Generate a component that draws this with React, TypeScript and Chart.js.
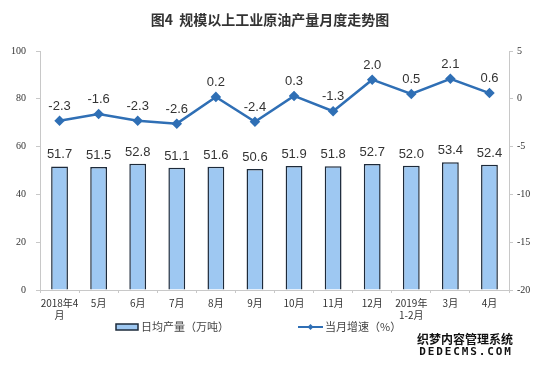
import React, { useEffect, useRef } from "react";
import { Chart, registerables } from "chart.js";
Chart.register(...registerables);

const titleText = "图4  规模以上工业原油产量月度走势图";
const categories: (string | string[])[] = [["2018年4", "月"], "5月", "6月", "7月", "8月", "9月", "10月", "11月", "12月", ["2019年", "1-2月"], "3月", "4月"];
const dailyOutput = [51.7, 51.5, 52.8, 51.1, 51.6, 50.6, 51.9, 51.8, 52.7, 52.0, 53.4, 52.4];
const growthRate = [-2.3, -1.6, -2.3, -2.6, 0.2, -2.4, 0.3, -1.3, 2.0, 0.5, 2.1, 0.6];
const barLegend = "日均产量（万吨）";
const lineLegend = "当月增速（%）";
const watermark = ["织梦内容管理系统", "DEDECMS.COM"];

const BAR_FILL = "#9ec8f2";
const BAR_BORDER = "#1d2a3a";
const LINE_COLOR = "#2f6fb5";
const CJK = '"Noto Sans CJK SC", "Noto Sans", sans-serif';

const overlayPlugin = {
  id: "overlay",
  afterDatasetsDraw(chart: any) {
    const ctx = chart.ctx;
    ctx.save();
    ctx.fillStyle = "#333";
    ctx.font = '13px "Liberation Sans", Arial, sans-serif';
    ctx.textAlign = "center";
    ctx.textBaseline = "alphabetic";
    const barMeta = chart.getDatasetMeta(0);
    barMeta.data.forEach((el: any, i: number) => {
      ctx.fillText(dailyOutput[i].toFixed(1), el.x, el.y - 8);
    });
    const lineMeta = chart.getDatasetMeta(1);
    lineMeta.data.forEach((el: any, i: number) => {
      ctx.fillText(growthRate[i].toFixed(1), el.x, el.y - 11);
    });
    ctx.restore();
  },
  afterDraw(chart: any) {
    const ctx = chart.ctx;
    ctx.save();
    // title
    ctx.fillStyle = "#333";
    ctx.font = `bold 14px ${CJK}`;
    ctx.textAlign = "center";
    ctx.textBaseline = "middle";
    ctx.fillText(titleText, 270, 20);
    // legend
    ctx.fillStyle = BAR_FILL;
    ctx.strokeStyle = BAR_BORDER;
    ctx.lineWidth = 1.5;
    ctx.fillRect(116, 324, 22, 6);
    ctx.strokeRect(116, 324, 22, 6);
    ctx.fillStyle = "#444";
    ctx.font = `11px ${CJK}`;
    ctx.textAlign = "left";
    ctx.fillText(barLegend, 141, 327);
    ctx.strokeStyle = LINE_COLOR;
    ctx.lineWidth = 2;
    ctx.beginPath();
    ctx.moveTo(298, 327);
    ctx.lineTo(323, 327);
    ctx.stroke();
    ctx.fillStyle = LINE_COLOR;
    ctx.beginPath();
    ctx.moveTo(310.5, 324);
    ctx.lineTo(313.5, 327);
    ctx.lineTo(310.5, 330);
    ctx.lineTo(307.5, 327);
    ctx.closePath();
    ctx.fill();
    ctx.fillStyle = "#444";
    ctx.fillText(lineLegend, 325, 327);
    // watermark
    ctx.fillStyle = "#111";
    ctx.textAlign = "center";
    ctx.font = `bold 12px ${CJK}`;
    ctx.fillText(watermark[0], 465, 339);
    ctx.font = 'bold 11px "DejaVu Sans Mono", monospace';
    const chars = watermark[1].split("");
    const step = 8.5;
    const x0 = 465 - (step * (chars.length - 1)) / 2;
    chars.forEach((c, i) => ctx.fillText(c, x0 + i * step, 352));
    ctx.restore();
  },
};

export default function App() {
  const ref = useRef<HTMLCanvasElement | null>(null);
  useEffect(() => {
    if (!ref.current) return;
    const tickFont = { family: '"Liberation Serif", "Times New Roman", serif', size: 10 };
    const chart = new Chart(ref.current, {
      type: "bar",
      data: {
        labels: categories as any,
        datasets: [
          {
            type: "bar",
            label: barLegend,
            data: dailyOutput,
            backgroundColor: BAR_FILL,
            borderColor: BAR_BORDER,
            borderWidth: 1.5,
            barPercentage: 0.43,
            categoryPercentage: 1,
            yAxisID: "y",
            order: 2,
          } as any,
          {
            type: "line",
            label: lineLegend,
            data: growthRate,
            borderColor: LINE_COLOR,
            backgroundColor: LINE_COLOR,
            borderWidth: 2.5,
            pointStyle: "rectRot",
            pointRadius: 3.5,
            pointBackgroundColor: LINE_COLOR,
            pointBorderColor: LINE_COLOR,
            tension: 0,
            yAxisID: "y1",
            order: 1,
          } as any,
        ],
      },
      options: {
        responsive: false,
        animation: false,
        layout: { padding: { top: 51, bottom: 36, left: 0, right: 0 } },
        plugins: { legend: { display: false }, tooltip: { enabled: false }, title: { display: false } },
        scales: {
          x: {
            offset: true,
            grid: { display: true, drawOnChartArea: false, offset: true, tickLength: 3, color: "#c8c8c8" },
            border: { color: "#c8c8c8", width: 1 },
            ticks: { color: "#333", font: { family: CJK, size: 10 }, padding: 4, maxRotation: 0, autoSkip: false },
            afterFit(scale: any) { scale.height = 40; },
          } as any,
          y: {
            position: "left",
            min: 0,
            max: 100,
            ticks: { stepSize: 20, color: "#333", font: tickFont, padding: 10 },
            grid: { drawOnChartArea: false, tickLength: 4, color: "#c8c8c8" },
            border: { color: "#c8c8c8" },
            afterFit(scale: any) { scale.width = 40; },
          } as any,
          y1: {
            position: "right",
            min: -20,
            max: 5,
            ticks: { stepSize: 5, color: "#333", font: tickFont, padding: 4 },
            grid: { drawOnChartArea: false, tickLength: 4, color: "#c8c8c8" },
            border: { color: "#c8c8c8" },
            afterFit(scale: any) { scale.width = 41; },
          } as any,
        },
      },
      plugins: [overlayPlugin],
    });
    return () => chart.destroy();
  }, []);
  return (
    <div style={{ position: "fixed", left: 0, top: 0, width: 550, height: 366, background: "#fff" }}>
      <canvas ref={ref} width={550} height={366} style={{ width: 550, height: 366, display: "block" }} />
    </div>
  );
}
